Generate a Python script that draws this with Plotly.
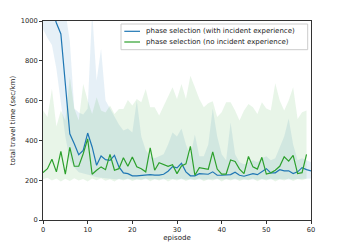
import plotly.graph_objects as go

# ---------------- data ----------------
episodes_blue = list(range(0, 61))
episodes_green = list(range(0, 60))

blue_mean = [1150, 1120, 1060, 990, 935, 680, 433, 383, 328, 350,
             437, 367, 275, 322, 303, 300, 325, 267, 237, 233,
             222, 222, 225, 228, 228, 226, 226, 230, 245, 268,
             262, 285, 242, 222, 222, 233, 233, 230, 242, 225,
             225, 226, 228, 240, 225, 220, 225, 233, 228, 242,
             258, 237, 237, 253, 247, 247, 233, 242, 263, 253,
             247]
blue_upper = [1200, 1200, 1200, 1200, 1150, 1050, 900, 560, 540, 530,
              560, 1050, 700, 860, 600, 560, 520, 480, 450, 460,
              440, 600, 420, 350, 320, 310, 320, 330, 380, 440,
              420, 460, 380, 320, 430, 320, 320, 380, 560, 420,
              330, 300, 490, 330, 290, 280, 290, 300, 290, 310,
              320, 300, 310, 370, 420, 510, 380, 300, 310, 300,
              290]
blue_lower = [960, 915, 880, 760, 600, 420, 300, 265, 240, 232,
              228, 222, 215, 212, 210, 208, 205, 205, 205, 203,
              203, 204, 203, 205, 204, 203, 205, 204, 206, 207,
              205, 206, 204, 203, 204, 205, 204, 203, 205, 204,
              203, 205, 204, 203, 204, 203, 205, 204, 203, 205,
              206, 204, 205, 206, 205, 204, 205, 204, 206, 207,
              208]

green_mean = [238, 258, 305, 242, 345, 230, 365, 270, 270, 333,
              408, 230, 250, 267, 253, 330, 250, 258, 313, 270,
              317, 267, 258, 242, 363, 250, 288, 280, 270, 278,
              233, 272, 282, 370, 225, 263, 258, 255, 342, 256,
              231, 231, 302, 294, 256, 233, 319, 267, 256, 315,
              231, 237, 250, 270, 318, 296, 325, 233, 238, 330]
green_upper = [550, 517, 660, 470, 550, 500, 720, 560, 500, 683,
               600, 533, 617, 550, 540, 575, 533, 558, 558, 603,
               575, 608, 592, 658, 567, 567, 525, 575, 620, 667,
               608, 683, 608, 725, 667, 608, 567, 587, 597, 517,
               542, 592, 592, 550, 500, 550, 583, 567, 533, 592,
               560, 550, 687, 600, 550, 600, 667, 508, 542, 550]
green_lower = [205, 212, 198, 208, 193, 207, 196, 210, 199, 206,
               194, 208, 200, 210, 197, 205, 193, 207, 199, 209,
               196, 205, 200, 210, 195, 206, 198, 208, 194, 205,
               199, 209, 196, 206, 200, 210, 195, 205, 198, 208,
               194, 206, 199, 209, 196, 205, 200, 208, 195, 206,
               198, 209, 194, 205, 199, 208, 196, 206, 200, 207]

x_ticks = [0, 10, 20, 30, 40, 50, 60]
y_ticks = [0, 200, 400, 600, 800, 1000]

label_blue = "phase selection (with incident experience)"
label_green = "phase selection (no incident experience)"
x_title = "episode"
y_title = "total travel time (sec/km)"

BLUE = "#1f77b4"
GREEN = "#2ca02c"
FONT = "DejaVu Sans"
TXT = "#222222"

fig = go.Figure()

# bands
fig.add_trace(go.Scatter(
    x=episodes_blue + episodes_blue[::-1],
    y=blue_upper + blue_lower[::-1],
    fill="toself", fillcolor="rgba(31,119,180,0.11)",
    line=dict(width=0), mode="lines", hoverinfo="skip", showlegend=False))
fig.add_trace(go.Scatter(
    x=episodes_green + episodes_green[::-1],
    y=green_upper + green_lower[::-1],
    fill="toself", fillcolor="rgba(44,160,44,0.11)",
    line=dict(width=0), mode="lines", hoverinfo="skip", showlegend=False))

# lines
fig.add_trace(go.Scatter(x=episodes_blue, y=blue_mean, mode="lines",
                         line=dict(color=BLUE, width=1.2), name=label_blue,
                         showlegend=False))
fig.add_trace(go.Scatter(x=episodes_green, y=green_mean, mode="lines",
                         line=dict(color=GREEN, width=1.2), name=label_green,
                         showlegend=False))

W, H = 346, 247
L, R, T, B = 43, 35, 21, 27
pw, ph = W - L - R, H - T - B


def px2x(px):
    return (px - L) / pw


def py2y(py):
    return (H - B - py) / ph


# custom compact legend (matplotlib style)
fig.add_shape(type="rect", xref="paper", yref="paper",
              x0=px2x(121), x1=px2x(307.7), y0=py2y(49.7), y1=py2y(24),
              line=dict(color="#cccccc", width=1),
              fillcolor="rgba(255,255,255,0.8)", layer="above")
for py, col, lab in [(31.3, BLUE, label_blue), (42.0, GREEN, label_green)]:
    fig.add_shape(type="line", xref="paper", yref="paper",
                  x0=px2x(124.3), x1=px2x(140), y0=py2y(py), y1=py2y(py),
                  line=dict(color=col, width=1.2), layer="above")
    fig.add_annotation(xref="paper", yref="paper", x=px2x(145.7), y=py2y(py),
                       text=lab, showarrow=False, xanchor="left",
                       yanchor="middle", borderpad=0, borderwidth=0,
                       font=dict(family=FONT, size=7, color=TXT))

axis_common = dict(
    showgrid=False, zeroline=False, showline=True, mirror=True,
    linecolor="#333333", linewidth=1, ticks="outside", ticklen=3,
    tickwidth=1, tickcolor="#333333",
    tickfont=dict(family=FONT, size=6.7, color=TXT),
)

fig.update_layout(
    width=W, height=H,
    margin=dict(l=L, r=R, t=T, b=B, pad=0),
    paper_bgcolor="white", plot_bgcolor="white",
    showlegend=False,
    xaxis=dict(range=[0, 60], tickvals=x_ticks, automargin=False,
               title=dict(text=x_title, font=dict(family=FONT, size=7, color=TXT),
                          standoff=2),
               **axis_common),
    yaxis=dict(range=[0, 1000], tickvals=y_ticks, automargin=False,
               title=dict(text=y_title, font=dict(family=FONT, size=7, color=TXT),
                          standoff=4),
               **axis_common),
)

fig.write_html("out.html",
               config={"displayModeBar": False, "staticPlot": True},
               post_script="document.body.style.margin='0';"
                           "document.body.style.overflow='hidden';")
